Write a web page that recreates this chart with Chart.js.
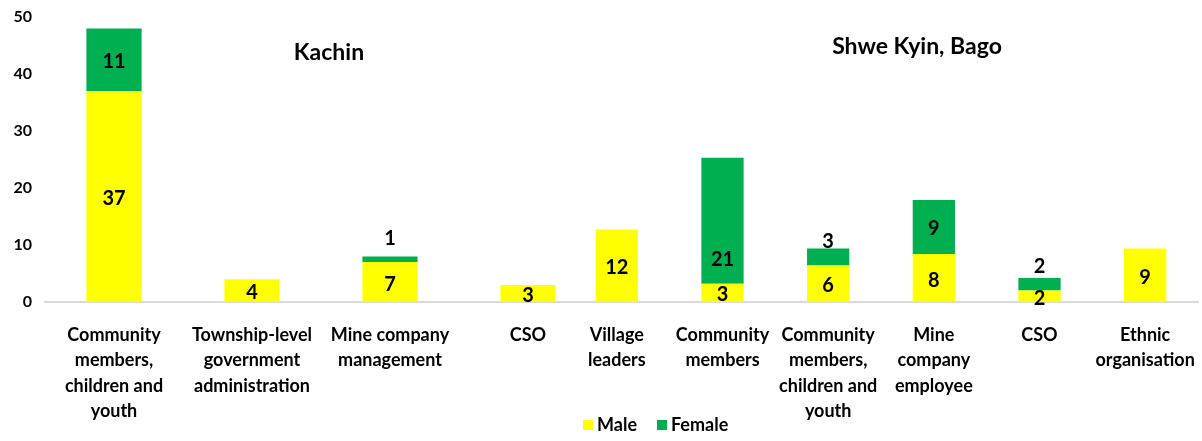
<!DOCTYPE html>
<html><head><meta charset="utf-8">
<script src="https://cdn.jsdelivr.net/npm/chart.js@4"></script>
<style>
html,body{margin:0;padding:0;background:#fff;}
#wrap{position:relative;width:1202px;height:441px;overflow:hidden;background:#fff;}
#c1,#c2{position:absolute;top:0;}
#c1{left:0;}
#c2{left:560px;}
</style></head><body>
<div id="wrap">
<canvas id="c1" width="597" height="441"></canvas>
<canvas id="c2" width="642" height="441"></canvas>
</div>
<script>
// ---------- data ----------
const kachinCategories = [
  ["Community","members,","children and","youth"],
  ["Township-level","government","administration"],
  ["Mine company","management"],
  ["CSO"]
];
const kachinMale = [37, 4, 7, 3];
const kachinFemale = [11, 0, 1, 0];
const kachinMaleLabels = ["37","4","7","3"];
const kachinFemaleLabels = ["11","","1",""];

const bagoCategories = [
  ["Village","leaders"],
  ["Community","members"],
  ["Community","members,","children and","youth"],
  ["Mine","company","employee"],
  ["CSO"],
  ["Ethnic","organisation"]
];
const bagoMale = [12.7, 3.2, 6.4, 8.4, 2.0, 9.4];
const bagoFemale = [0, 22.1, 3.0, 9.5, 2.2, 0];
const bagoMaleLabels = ["12","3","6","8","2","9"];
const bagoFemaleLabels = ["","21","3","9","2",""];

const yTicks = [0, 10, 20, 30, 40, 50];
const seriesNames = ["Male", "Female"];
const regionTitles = ["Kachin", "Shwe Kyin, Bago"];

// ---------- style ----------
const YELLOW = "#FFFF00";
const GREEN = "#00B050";
const AXIS = "#D9D9D9";
const FONT = "Lato, 'Open Sans', sans-serif";
Chart.defaults.font.family = FONT;
Chart.defaults.color = "#000";

const segLabels = {
  id: "segLabels",
  afterDatasetsDraw(chart, args, opts) {
    const ctx = chart.ctx;
    ctx.save();
    ctx.font = "bold 20px " + FONT;
    ctx.fillStyle = "#000";
    ctx.textAlign = "center";
    ctx.textBaseline = "middle";
    chart.data.datasets.forEach((ds, di) => {
      const meta = chart.getDatasetMeta(di);
      meta.data.forEach((el, i) => {
        const txt = ds.valueLabels[i];
        if (!txt) return;
        const p = (opts.place || {})[di + "-" + i];
        let y;
        if (p && p.above != null) y = el.y - p.above;
        else if (p && p.fromBase != null) y = el.base - p.fromBase;
        else y = (el.y + el.base) / 2 + 2;
        ctx.fillText(txt, el.x, y);
      });
    });
    ctx.restore();
  }
};

const regionTitle = {
  id: "regionTitle",
  afterDraw(chart, args, opts) {
    const ctx = chart.ctx;
    ctx.save();
    ctx.font = "bold 23px " + FONT;
    ctx.fillStyle = "#000";
    ctx.textAlign = "center";
    ctx.textBaseline = "middle";
    ctx.fillText(opts.text, opts.x, opts.y);
    ctx.restore();
  }
};

const customLegend = {
  id: "customLegend",
  afterDraw(chart, args, opts) {
    if (!opts.show) return;
    const ctx = chart.ctx;
    ctx.save();
    ctx.font = "bold 18px " + FONT;
    ctx.textBaseline = "middle";
    ctx.textAlign = "left";
    let x = opts.x;
    chart.data.datasets.forEach(ds => {
      ctx.fillStyle = ds.backgroundColor;
      ctx.fillRect(x, opts.y - 5, 10, 10);
      ctx.fillStyle = "#000";
      ctx.fillText(ds.label, x + 14, opts.y);
      x += 14 + ctx.measureText(ds.label).width + 20;
    });
    ctx.restore();
  }
};

function makeChart(id, cats, male, female, maleL, femaleL, showY, padL, padR, titleOpts, legendOpts, place) {
  return new Chart(document.getElementById(id), {
    type: "bar",
    data: {
      labels: cats,
      datasets: [
        { label: seriesNames[0], data: male, valueLabels: maleL, backgroundColor: YELLOW, borderWidth: 0 },
        { label: seriesNames[1], data: female, valueLabels: femaleL, backgroundColor: GREEN, borderWidth: 0 }
      ]
    },
    options: {
      responsive: false,
      animation: false,
      layout: { padding: { left: padL, right: padR, top: 17, bottom: 0 } },
      plugins: {
        legend: { display: false },
        tooltip: { enabled: false },
        title: { display: false },
        segLabels: { place: place },
        regionTitle: titleOpts,
        customLegend: legendOpts
      },
      datasets: { bar: { categoryPercentage: 1.0, barPercentage: 0.4 } },
      scales: {
        x: {
          stacked: true,
          grid: { display: false, drawTicks: false },
          border: { display: true, color: AXIS, width: 2 },
          ticks: { font: { size: 18, weight: "bold", lineHeight: 1.42 }, color: "#000", padding: 20, maxRotation: 0, autoSkip: false },
          afterFit(s) { s.height = 139; s.paddingLeft = 0; s.paddingRight = 0; }
        },
        y: {
          display: showY,
          stacked: true,
          min: 0, max: 50,
          afterBuildTicks(s) { s.ticks = yTicks.map(v => ({ value: v })); },
          grid: { display: false, drawTicks: false },
          border: { display: false },
          ticks: { font: { size: 16, weight: "bold" }, color: "#000", padding: 13 },
          afterFit(s) { s.width = showY ? 45 : 0; s.paddingTop = 0; s.paddingBottom = 0; }
        }
      }
    },
    plugins: [segLabels, regionTitle, customLegend]
  });
}

makeChart("c1", kachinCategories, kachinMale, kachinFemale, kachinMaleLabels, kachinFemaleLabels,
  true, 0, 0,
  { text: regionTitles[0], x: 329, y: 53 },
  { show: false },
  { "1-2": { above: 18 } });

makeChart("c2", bagoCategories, bagoMale, bagoFemale, bagoMaleLabels, bagoFemaleLabels,
  false, 4, 4,
  { text: regionTitles[1], x: 357, y: 47 },
  { show: true, x: 23, y: 425 },
  { "1-1": { fromBase: 24 }, "1-2": { above: 7 }, "1-4": { above: 12 } });
</script>
</body></html>
